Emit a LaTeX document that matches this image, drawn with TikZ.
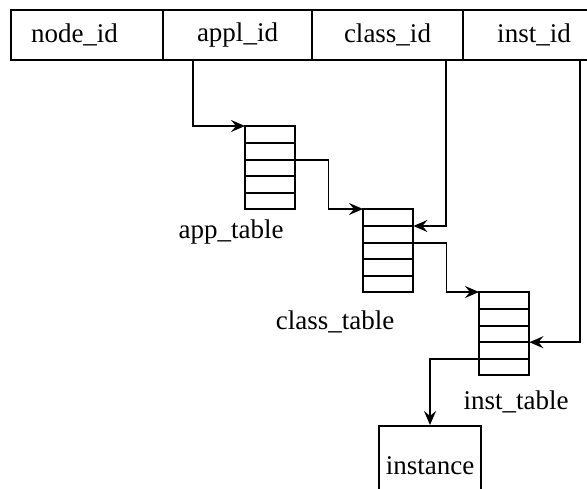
\documentclass[tikz,border=0pt]{standalone}
\usepackage{fontspec}
\setmainfont{Liberation Serif}
\usetikzlibrary{arrows.meta}
\begin{document}
\begin{tikzpicture}[x=1pt,y=-1pt,
  every node/.style={font=\fontsize{27}{31}\selectfont},
  cell/.style={draw, line width=2pt, minimum width=#1, minimum height=50pt, inner sep=0pt, anchor=north west},
  tabrow/.style={minimum width=50pt, minimum height=16.6pt, inner sep=0pt, anchor=north west},
  frame/.style={line width=2pt},
  link/.style={line width=1.8pt, -{Stealth[length=14pt,width=12pt,inset=5pt]}}]
\useasboundingbox (0,0) rectangle (587,488);
\clip (0,0) rectangle (587,488);

% header record
\node[cell=152pt, text width=112pt, inner xsep=20pt, align=left] (nodeid) at (10,9) {node\_id};
\node[cell=149pt] (applid) at (162,9) {appl\_id};
\node[cell=151pt] (classid) at (311,9) {class\_id};
\node[cell=142pt] (instid) at (462,9) {inst\_id};

% lookup tables, five rows each
\foreach \t/\x/\y in {t1/245/126, t2/363/209, t3/479/292} {
  \foreach \i in {1,...,5}
    \node[tabrow] (\t r\i) at ({\x},{\y+16.6*(\i-1)}) {};
  \draw[frame] (\t r1.north west) rectangle (\t r5.south east);
  \foreach \i in {1,...,4}
    \draw[frame] (\t r\i.south west) -- (\t r\i.south east);
}
\node (t1lbl) at (231,232) {app\_table};
\node (t2lbl) at (335,322) {class\_table};
\node (t3lbl) at (516,402) {inst\_table};

% target object
\node[draw, line width=2pt, minimum width=102pt, minimum height=80pt, inner sep=0pt, anchor=north west] (instance) at (378,425) {instance};

% pointers
\draw[link] ([xshift=31pt]applid.south west) |- (t1r1.north west);
\draw[link] (t1r2.south east) -- ++(33,0) |- (t2r1.north west);
\draw[link] ([xshift=135pt]classid.south west) |- (t2r1.south east);
\draw[link] (t2r2.south east) -- ++(33,0) |- (t3r1.north west);
\draw[link] ([xshift=118pt]instid.south west) |- (t3r3.south east);
\draw[link] (t3r4.south west) -| (instance.north);
\end{tikzpicture}
\end{document}
